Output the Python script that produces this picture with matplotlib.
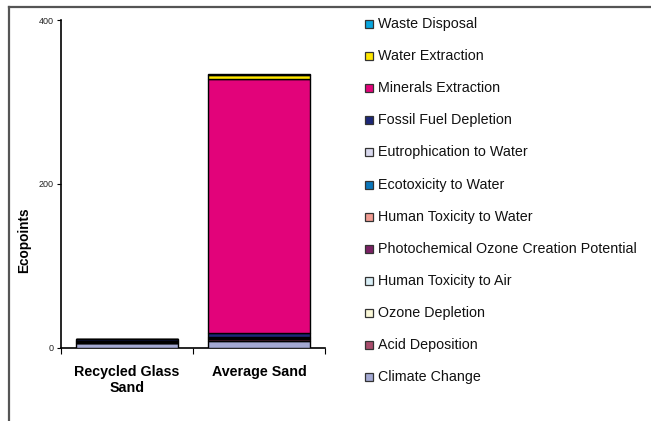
import matplotlib
matplotlib.use("Agg")
import matplotlib.pyplot as plt
from matplotlib.patches import Rectangle
from matplotlib.lines import Line2D
import numpy as np

plt.rcParams['font.family'] = ['Liberation Sans', 'DejaVu Sans']

categories = ["Recycled Glass\nSand", "Average Sand"]

# impact categories, stacked from the bottom up
series = [
    "Climate Change",
    "Acid Deposition",
    "Ozone Depletion",
    "Human Toxicity to Air",
    "Photochemical Ozone Creation Potential",
    "Human Toxicity to Water",
    "Ecotoxicity to Water",
    "Eutrophication to Water",
    "Fossil Fuel Depletion",
    "Minerals Extraction",
    "Water Extraction",
    "Waste Disposal",
]

recycled_glass_sand = [5.0, 0.8, 0.05, 0.6, 0.5, 0.2, 0.2, 0.2, 2.5, 0.2, 0.1, 0.1]
average_sand = [8.3, 1.5, 0.1, 1.0, 0.8, 0.3, 0.3, 0.3, 4.5, 311.0, 5.3, 0.3]

colors = [
    "#a4a9d3",  # Climate Change
    "#a84c6c",  # Acid Deposition
    "#fbf8d8",  # Ozone Depletion
    "#d8eef6",  # Human Toxicity to Air
    "#7a2164",  # Photochemical Ozone Creation Potential
    "#f19c92",  # Human Toxicity to Water
    "#0a76ba",  # Ecotoxicity to Water
    "#d9d9ee",  # Eutrophication to Water
    "#1c2777",  # Fossil Fuel Depletion
    "#e2037a",  # Minerals Extraction
    "#ffe700",  # Water Extraction
    "#08a6df",  # Waste Disposal
]

yticks = [0, 200, 400]

W, H = 651, 421
fig = plt.figure(figsize=(W / 100, H / 100), dpi=100)
ax = fig.add_axes([61 / W, 1 - 347.5 / H, (325 - 61) / W, (347.5 - 20) / H])

values = np.array([recycled_glass_sand, average_sand]).T
x = np.arange(len(categories))
bottom = np.zeros(len(categories))
for name, vals, col in zip(series, values, colors):
    ax.bar(x, vals, width=0.77, bottom=bottom, color=col, edgecolor="black",
           linewidth=1.0, label=name, zorder=3)
    bottom += vals

ax.set_xlim(-0.5, len(categories) - 0.5)
ax.set_ylim(0, 400)
ax.set_yticks(yticks)
ax.set_yticklabels([str(t) for t in yticks], fontsize=6.5, color="#222222")
ax.tick_params(axis="y", direction="out", length=3, width=0.8, pad=2)
ax.set_xticks(np.arange(len(categories) + 1) - 0.5)
ax.set_xticklabels([])
ax.tick_params(axis="x", direction="out", length=4, width=0.8)
for s in ["top", "right"]:
    ax.spines[s].set_visible(False)
for s in ["left", "bottom"]:
    ax.spines[s].set_linewidth(1.2)
    ax.spines[s].set_color("black")

for xi, lab in zip(x, categories):
    ax.text(xi, -21, lab, ha="center", va="top", fontsize=10.3, fontweight="bold",
            linespacing=1.2)

fig.text(24 / W, 1 - 240 / H, "Ecopoints", rotation=90, ha="center", va="center",
         fontsize=9.8, fontweight="bold")

# outer frame (top and left edges)
fig.add_artist(Line2D([8.5 / W, 1.0], [1 - 6.5 / H, 1 - 6.5 / H], color="#555555",
                      linewidth=1.6, transform=fig.transFigure))
fig.add_artist(Line2D([8.5 / W, 8.5 / W], [1 - 6.5 / H, 0.0], color="#555555",
                      linewidth=1.6, transform=fig.transFigure))

# legend, listed top-down in reverse stacking order
row0, step = 24.0, 32.1
for i, (name, col) in enumerate(zip(series[::-1], colors[::-1])):
    yc = row0 + i * step
    fig.add_artist(Rectangle((364.5 / W, 1 - (yc + 4) / H), 8 / W, 8 / H,
                             facecolor=col, edgecolor="#333333", linewidth=0.9,
                             transform=fig.transFigure))
    fig.text(377.5 / W, 1 - yc / H, name, ha="left", va="center", fontsize=10.3,
             color="#111111")

fig.savefig("out.png", dpi=100)
